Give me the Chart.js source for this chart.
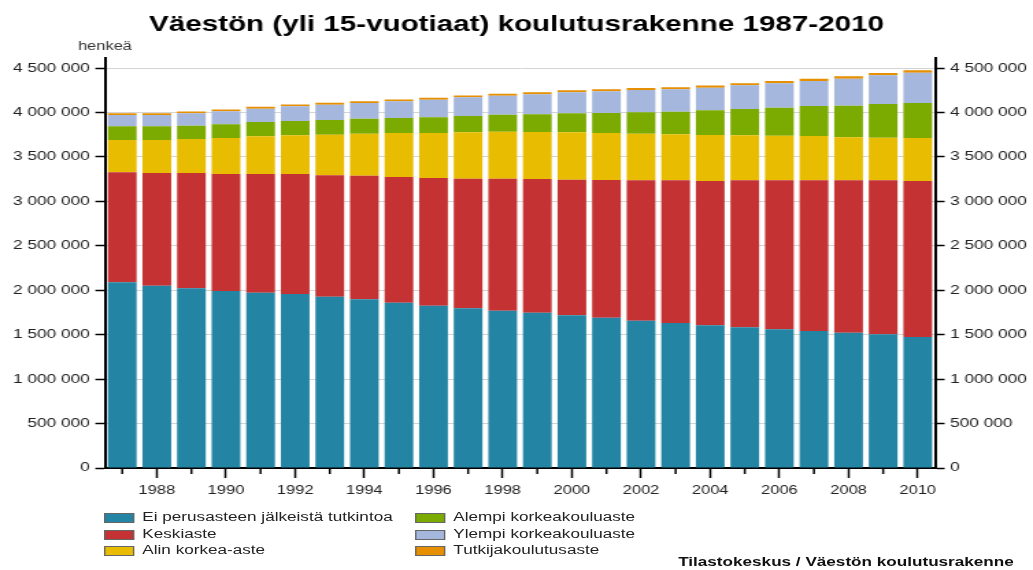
<!DOCTYPE html>
<html>
<head>
<meta charset="utf-8">
<script src="https://cdn.jsdelivr.net/npm/chart.js@4.4.1/dist/chart.umd.min.js"></script>
<style>
  html, body { margin: 0; padding: 0; background: #fff; overflow: hidden; }
  #wrap { position: absolute; left: 0; top: 0; width: 754px; height: 570px; transform: scaleX(1.37); transform-origin: 0 0; font-family: "Liberation Sans", Arial, sans-serif; }
  #c { position: absolute; left: 0; top: 0; }
  .leg { position: absolute; font-size: 12.5px; color: #222; white-space: nowrap; line-height: 14px; }
  .leg .box { position: absolute; left: 0; top: 2px; width: 20px; height: 8px; border: 1px solid #666; }
  .leg .txt { position: absolute; left: 28px; top: -1px; }
  #src { position: absolute; right: 14px; top: 555px; font-size: 12.5px; font-weight: bold; color: #111; white-space: nowrap; }
</style>
</head>
<body>
<div id="wrap">
  <canvas id="c" width="754" height="570"></canvas>
  <div id="legend"></div>
  <div id="src">Tilastokeskus / Väestön koulutusrakenne</div>
</div>
<script>
const years = ["1987","1988","1989","1990","1991","1992","1993","1994","1995","1996","1997","1998","1999","2000","2001","2002","2003","2004","2005","2006","2007","2008","2009","2010"];
const seriesNames = ["Ei perusasteen jälkeistä tutkintoa","Keskiaste","Alin korkea-aste","Alempi korkeakouluaste","Ylempi korkeakouluaste","Tutkijakoulutusaste"];
const eiPerusasteen = [2089000,2051000,2021000,1991000,1972000,1957000,1927000,1898000,1860000,1826000,1797000,1770000,1747000,1718000,1691000,1657000,1631000,1605000,1583000,1560000,1541000,1522000,1504000,1474000];
const keskiaste = [1237000,1268000,1298000,1316000,1335000,1350000,1366000,1391000,1414000,1436000,1458000,1485000,1504000,1526000,1549000,1579000,1605000,1624000,1653000,1676000,1695000,1714000,1732000,1755000];
const alinKorkea = [364000,371000,382000,405000,424000,436000,457000,472000,495000,507000,521000,529000,529000,532000,529000,525000,518000,517000,507000,503000,499000,484000,480000,483000];
const alempiKorkeakoulu = [154000,154000,150000,154000,161000,161000,165000,169000,168000,176000,184000,191000,199000,214000,225000,240000,255000,278000,296000,315000,337000,356000,379000,394000];
const ylempiKorkeakoulu = [127000,127000,139000,147000,150000,165000,172000,176000,188000,199000,210000,214000,225000,236000,244000,251000,251000,255000,266000,274000,282000,304000,323000,341000];
const tutkija = [20000,21000,21000,21000,21000,21000,21000,21000,22000,22000,22000,22000,22000,23000,23000,23000,23000,24000,24000,25000,26000,26000,26000,27000];
const yTicks = [0,500000,1000000,1500000,2000000,2500000,3000000,3500000,4000000,4500000];

const colors = ["rgb(35,133,163)","rgb(196,50,51)","rgb(232,188,0)","rgb(123,170,0)","rgb(165,183,220)","rgb(230,143,0)"];
const values = [eiPerusasteen, keskiaste, alinKorkea, alempiKorkeakoulu, ylempiKorkeakoulu, tutkija];

const fmt = v => String(v).replace(/\B(?=(\d{3})+(?!\d))/g, ' ');
const FONT = "'Liberation Sans', Arial, sans-serif";

const extras = {
  id: 'extras',
  afterDraw(chart) {
    const ctx = chart.ctx;
    const x = chart.scales.x;
    const area = chart.chartArea;
    ctx.save();
    ctx.strokeStyle = '#000';
    ctx.lineWidth = 1.5;
    for (let i = 0; i < years.length; i++) {
      if (i % 2 === 0) {
        const px = x.getPixelForTick(i);
        ctx.beginPath();
        ctx.moveTo(px, area.bottom);
        ctx.lineTo(px, area.bottom + 6);
        ctx.stroke();
      }
    }
    ctx.fillStyle = '#333';
    ctx.font = '12px ' + FONT;
    ctx.textAlign = 'center';
    ctx.textBaseline = 'middle';
    ctx.fillText('henkeä', area.left, 47);
    ctx.restore();
  }
};

new Chart(document.getElementById('c'), {
  type: 'bar',
  data: {
    labels: years,
    datasets: values.map((d, i) => ({
      label: seriesNames[i],
      data: d,
      backgroundColor: colors[i],
      borderWidth: 0,
      yAxisID: 'y',
      categoryPercentage: 1,
      barPercentage: 0.83
    }))
  },
  options: {
    responsive: false,
    animation: false,
    layout: { padding: { left: 0, right: 0, top: 0, bottom: 0 } },
    plugins: {
      legend: { display: false },
      tooltip: { enabled: false },
      title: {
        display: true,
        text: 'Väestön (yli 15-vuotiaat) koulutusrakenne 1987-2010',
        color: '#000',
        font: { family: FONT, size: 21.6, weight: 'bold' },
        padding: { top: 12, bottom: 20.1 }
      }
    },
    scales: {
      x: {
        stacked: true,
        offset: true,
        grid: { display: true, drawOnChartArea: false, drawTicks: true, offset: false, tickLength: 10, tickWidth: 1.5,
                tickColor: c => (c.index % 2 === 1 ? '#000' : 'rgba(0,0,0,0)') },
        border: { display: true, color: '#000', width: 2 },
        ticks: { autoSkip: false, maxRotation: 0, minRotation: 0, padding: 5, color: '#222',
                 font: { family: FONT, size: 12 },
                 callback: function (v, i) { return i % 2 === 1 ? years[i] : ''; } },
        afterFit: s => { s.height = 102; }
      },
      y: {
        stacked: true,
        position: 'left',
        min: 0,
        max: 4612500,
        afterBuildTicks: s => { s.ticks = yTicks.map(v => ({ value: v })); },
        grid: { color: '#d4d4d4', lineWidth: 1, tickColor: '#000', tickLength: 7, tickWidth: 1.5 },
        border: { display: true, color: '#000', width: 2 },
        ticks: { padding: 4, color: '#222', font: { family: FONT, size: 12.6 }, callback: v => fmt(v) },
        afterFit: s => { s.width = 76.6; }
      },
      y2: {
        position: 'right',
        min: 0,
        max: 4612500,
        afterBuildTicks: s => { s.ticks = yTicks.map(v => ({ value: v })); },
        grid: { drawOnChartArea: false, tickColor: '#000', tickLength: 7, tickWidth: 1.5 },
        border: { display: true, color: '#000', width: 2 },
        ticks: { padding: 4, color: '#222', font: { family: FONT, size: 12.6 }, callback: v => fmt(v) },
        afterFit: s => { s.width = 71.5; }
      }
    }
  },
  plugins: [extras]
});

// HTML legend, two columns (column-major)
const legend = document.getElementById('legend');
const colX = [75.9, 302.9];
const rowY = [511, 528, 544];
seriesNames.forEach((name, i) => {
  const col = Math.floor(i / 3), row = i % 3;
  const el = document.createElement('div');
  el.className = 'leg';
  el.style.left = colX[col] + 'px';
  el.style.top = rowY[row] + 'px';
  el.innerHTML = '<span class="box" style="background:' + colors[i] + '"></span><span class="txt"></span>';
  el.querySelector('.txt').textContent = name;
  legend.appendChild(el);
});
</script>
</body>
</html>
